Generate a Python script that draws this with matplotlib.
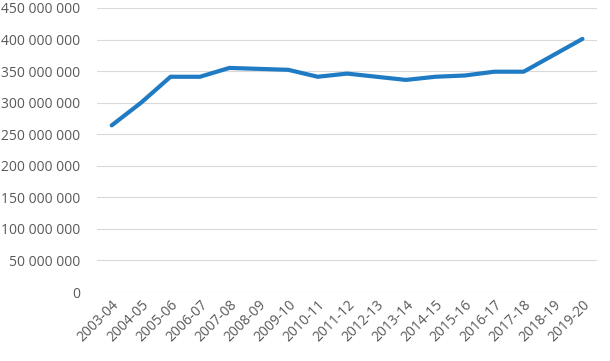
import matplotlib

matplotlib.use('Agg')

import matplotlib.pyplot as plt
from matplotlib.ticker import FuncFormatter

years = ['2003-04', '2004-05', '2005-06', '2006-07', '2007-08', '2008-09',
         '2009-10', '2010-11', '2011-12', '2012-13', '2013-14', '2014-15',
         '2015-16', '2016-17', '2017-18', '2018-19', '2019-20']
values = [264e6, 300e6, 341e6, 341e6, 355e6, 353.5e6, 352e6, 341e6, 346e6,
          341e6, 336e6, 341e6, 343e6, 349e6, 349e6, 375e6, 401e6]
y_ticks = [0, 50e6, 100e6, 150e6, 200e6, 250e6, 300e6, 350e6, 400e6, 450e6]

plt.rcParams['font.family'] = ['Open Sans', 'DejaVu Sans']
text_color = '#595959'

fig = plt.figure(figsize=(6.10, 3.61), dpi=100)
ax = fig.add_axes([0.159, 0.191, 0.82, 0.787])

x = list(range(len(years)))
ax.plot(x, values, color='#1F7BC4', linewidth=3, solid_capstyle='round',
        solid_joinstyle='round', zorder=3)

ax.set_xlim(-0.5, len(years) - 0.5)
ax.set_ylim(0, 450e6)
ax.set_yticks(y_ticks)
ax.yaxis.set_major_formatter(
    FuncFormatter(lambda v, p: f'{int(v):,}'.replace(',', ' ')))
ax.set_xticks(x)
ax.set_xticklabels(years, rotation=45, ha='right', rotation_mode='anchor')

ax.grid(axis='y', color='#D9D9D9', linewidth=0.8)
ax.set_axisbelow(True)
for s in ax.spines.values():
    s.set_visible(False)
ax.tick_params(axis='both', length=0, labelsize=10, colors=text_color)
ax.tick_params(axis='y', pad=12)
ax.tick_params(axis='x', pad=4)

fig.savefig('out.png')
